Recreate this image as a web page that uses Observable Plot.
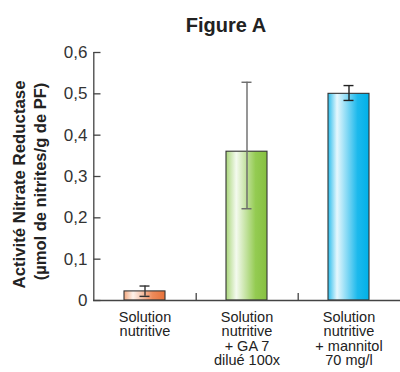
<!DOCTYPE html>
<html>
<head>
<meta charset="utf-8">
<script src="https://cdn.jsdelivr.net/npm/d3@7"></script>
<script src="https://cdn.jsdelivr.net/npm/@observablehq/plot@0.6"></script>
<style>
  html, body { margin: 0; padding: 0; background: #fff; }
  #chart { width: 400px; height: 372px; }
</style>
</head>
<body>
<div id="chart"></div>
<script>
const categories = ["Solution\nnutritive", "Solution\nnutritive\n+ GA 7\ndilué 100x", "Solution\nnutritive\n+ mannitol\n70 mg/l"];
const values = [0.022, 0.36, 0.50];
const errLow = [0.010, 0.222, 0.484];
const errHigh = [0.035, 0.528, 0.520];
const gradIds = ["gOrange", "gGreen", "gBlue"];
const errColors = ["#333333", "#6a6a6a", "#222222"];
const yTicks = [0, 0.1, 0.2, 0.3, 0.4, 0.5, 0.6];
const title = "Figure A";
const yLabel1 = "Activité Nitrate Reductase";
const yLabel2 = "(µmol de nitrites/g de PF)";

const data = categories.map((c, i) => ({
  cat: c, v: values[i], lo: errLow[i], hi: errHigh[i],
  fill: `url(#${gradIds[i]})`, ec: errColors[i]
}));
const boundaries = categories.slice(0, 2);
const halfStep = 51.2; // half of a band step, in px

const font = "'Liberation Sans', Arial, Helvetica, sans-serif";

// inward-pointing tick symbol (7px to the right of the axis)
const inwardTick = {
  draw(context) { context.moveTo(0, 0); context.lineTo(7, 0); }
};

const chart = Plot.plot({
  width: 400,
  height: 372,
  marginLeft: 93,
  marginRight: 0,
  marginTop: 52,
  marginBottom: 72,
  style: { fontFamily: font, color: "#333", background: "#fff" },
  x: { domain: categories, paddingInner: 0.6, paddingOuter: 0.3, label: null },
  y: { domain: [0, 0.6], label: null },
  color: { type: "identity" },
  marks: [
    Plot.barY(data, { x: "cat", y: "v", fill: "fill", stroke: "#333", strokeWidth: 1.1 }),
    Plot.ruleX(data, { x: "cat", y1: "lo", y2: "hi", stroke: "ec", strokeWidth: 1.4 }),
    Plot.tickY(data, { x: "cat", y: "lo", stroke: "ec", strokeWidth: 1.4, insetLeft: 15.5, insetRight: 15.5 }),
    Plot.tickY(data, { x: "cat", y: "hi", stroke: "ec", strokeWidth: 1.4, insetLeft: 15.5, insetRight: 15.5 }),
    Plot.ruleY([0], { stroke: "#444", strokeWidth: 1.3 }),
    Plot.ruleX(boundaries, { x: d => d, dx: halfStep, y1: 0, y2: 0.017, stroke: "#444", strokeWidth: 1.3 }),
    Plot.axisY({
      ticks: yTicks, tickSize: 0, tickPadding: 6,
      tickFormat: d => d === 0 ? "0" : d3.format(".1f")(d).replace(".", ","),
      fontSize: 17, fill: "#333", label: null
    }),
    Plot.dot(yTicks, { y: d => d, frameAnchor: "left", symbol: inwardTick, fill: "none", stroke: "#444", strokeWidth: 1.3 }),
    Plot.ruleX([categories[0]], { x: d => d, dx: -halfStep, y1: 0, y2: 0.6, stroke: "#444", strokeWidth: 1.3 }),
    Plot.axisX({
      tickSize: 0, tickPadding: 11, fontSize: 14.5, lineHeight: 1.0, fill: "#222", label: null
    }),
    Plot.text([title], { frameAnchor: "top", dy: -35, dx: -21, text: d => d, fontSize: 20, fontWeight: "bold", fill: "#222" }),
    Plot.text([yLabel1], { frameAnchor: "left", textAnchor: "middle", dx: -73.5, dy: 8, rotate: -90, text: d => d, fontSize: 16.8, fontWeight: "bold", fill: "#222" }),
    Plot.text([yLabel2], { frameAnchor: "left", textAnchor: "middle", dx: -53, dy: 5, rotate: -90, text: d => d, fontSize: 16.5, fontWeight: "bold", fill: "#222" })
  ]
});

// gradient definitions for the bar fills
const svgNS = "http://www.w3.org/2000/svg";
const defs = document.createElementNS(svgNS, "defs");
const grads = {
  gOrange: [["0", "#f2a77e"], ["0.22", "#fdf3ec"], ["0.7", "#ee8a5a"], ["1", "#e8723a"]],
  gGreen: [["0", "#a9d67a"], ["0.25", "#f4faef"], ["0.72", "#94cb52"], ["1", "#86c040"]],
  gBlue: [["0", "#2bbdec"], ["0.22", "#e6f7fd"], ["0.72", "#1cb9ec"], ["1", "#00b0e8"]]
};
for (const [id, stops] of Object.entries(grads)) {
  const g = document.createElementNS(svgNS, "linearGradient");
  g.setAttribute("id", id);
  g.setAttribute("x1", "0"); g.setAttribute("x2", "1");
  g.setAttribute("y1", "0"); g.setAttribute("y2", "0");
  for (const [o, c] of stops) {
    const s = document.createElementNS(svgNS, "stop");
    s.setAttribute("offset", o);
    s.setAttribute("stop-color", c);
    g.appendChild(s);
  }
  defs.appendChild(g);
}
chart.insertBefore(defs, chart.firstChild);
document.getElementById("chart").appendChild(chart);
</script>
</body>
</html>
